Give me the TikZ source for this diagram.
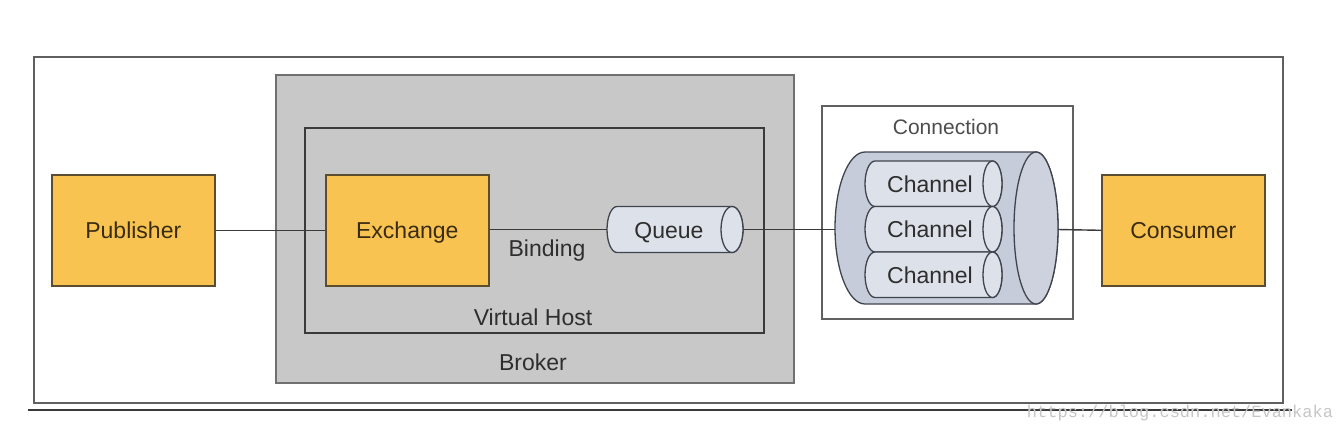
\documentclass[tikz,border=0pt]{standalone}
\usepackage{fontspec}
\setmainfont{Liberation Sans}
\newfontfamily\wmfont{Liberation Mono}
\definecolor{orangebox}{HTML}{F8C350}
\definecolor{orangeedge}{HTML}{5C4C30}
\definecolor{brokerfill}{HTML}{C8C8C8}
\definecolor{brokeredge}{HTML}{707070}
\definecolor{darkline}{HTML}{3A3A3A}
\definecolor{cylfill}{HTML}{C6CCD9}
\definecolor{cylend}{HTML}{CDD2DE}
\definecolor{chanfill}{HTML}{DDE1E9}
\definecolor{cyledge}{HTML}{40444E}
\definecolor{txt}{HTML}{2E2E2E}
\definecolor{boxtxt}{HTML}{3A2C12}
\tikzset{
  actor/.style={draw=orangeedge, fill=orangebox, line width=1.6pt, minimum width=163pt, minimum height=111pt, anchor=north west, inner sep=0pt},
  lbl/.style={font=\fontsize{23}{27}\selectfont, text=txt, inner sep=0pt, anchor=base},
  boxlbl/.style={font=\fontsize{23}{27}\selectfont, text=boxtxt, inner sep=0pt, anchor=base},
  conn/.style={draw=darkline, line width=1.4pt},
  cyl/.style={draw=cyledge, line width=1.3pt},
}
\begin{document}
\begin{tikzpicture}[x=1pt,y=-1pt]
\useasboundingbox (0,0) rectangle (1340,434);
\fill[white] (0,0) rectangle (1340,434);
% outer frame
\node[draw=gray!75!black, line width=2pt, minimum width=1249pt, minimum height=346pt, anchor=north west, inner sep=0pt] (frame) at (33,56) {};
\coordinate (bl) at (28,410);
\coordinate (br) at (1292,410);
\draw[darkline, line width=2.6pt] (bl) -- (br);
\node[font=\wmfont\fontsize{17}{20}\selectfont, text=gray!45] (wm) at (1180,413) {https://blog.csdn.net/Evankaka};
% broker
\node[draw=brokeredge, fill=brokerfill, line width=1.8pt, minimum width=518pt, minimum height=308pt, anchor=north west, inner sep=0pt] (broker) at (275,74) {};
\node[draw=darkline, line width=1.6pt, minimum width=459pt, minimum height=205pt, anchor=north west, inner sep=0pt] (vhost) at (304,127) {};
\node[lbl] (brokerlbl) at (533,370) {Broker};
\node[lbl] (vhostlbl) at (533,325) {Virtual Host};
% actors
\node[actor] (pub) at (51,174) {};
\node[boxlbl] (publbl) at ([yshift=-8.5pt]pub.center) {Publisher};
\node[actor] (exch) at (325,174) {};
\node[boxlbl] (exchlbl) at ([yshift=-8.5pt]exch.center) {Exchange};
\node[actor] (cons) at (1101,174) {};
\node[boxlbl] (conslbl) at ([yshift=-8.5pt]cons.center) {Consumer};
% queue
\path[cyl, fill=chanfill] (617,206.5) -- (732,206.5) arc[start angle=90,end angle=-90,x radius=11pt,y radius=23pt] -- (617,252.5) arc[start angle=270,end angle=90,x radius=10pt,y radius=23pt] -- cycle;
\draw[cyl, fill=chanfill] (732,229.5) ellipse [x radius=11pt, y radius=23pt];
\node[lbl] (queue) at (669,238) {Queue};
\coordinate (qL) at (607,229.5);
\coordinate (qR) at (743,229.5);
\node[lbl] (binding) at (547,256) {Binding};
% connection box
\node[draw=darkline!80, fill=white, line width=1.6pt, minimum width=251pt, minimum height=213pt, anchor=north west, inner sep=0pt] (connbox) at (821,105) {};
\node[lbl, font=\fontsize{21}{25}\selectfont, text=txt!85] (connlbl) at (946,134) {Connection};
% big cylinder
\path[cyl, fill=cylfill] (865,152) -- (1036,152) arc[start angle=90,end angle=-90,x radius=22pt,y radius=76pt] -- (865,304) arc[start angle=270,end angle=90,x radius=30pt,y radius=76pt] -- cycle;
\draw[cyl, fill=cylend] (1036,228) ellipse [x radius=22pt, y radius=76pt];
\coordinate (cylL) at (835.2,229.5);
\coordinate (cylR) at (1057.8,229.5);
% channels
\foreach \t/\n in {161/ch1,206.5/ch2,252/ch3}{
  \path[cyl, fill=chanfill] (875,\t) -- (992.5,\t) arc[start angle=90,end angle=-90,x radius=9.5pt,y radius=22.75pt] -- (875,\t+45.5) arc[start angle=270,end angle=90,x radius=10pt,y radius=22.75pt] -- cycle;
  \draw[cyl, fill=chanfill] (992.5,\t+22.75) ellipse [x radius=9.5pt, y radius=22.75pt];
  \node[lbl] (\n) at (930,\t+31) {Channel};
}
% connectors
\draw[conn] (pub.east) -- (exch.west);
\draw[conn] (exch.east |- qL) -- (qL);
\draw[conn] (qR) -- (cylL);
\draw[conn] (cylR) -- (cons.west);
\end{tikzpicture}
\end{document}
